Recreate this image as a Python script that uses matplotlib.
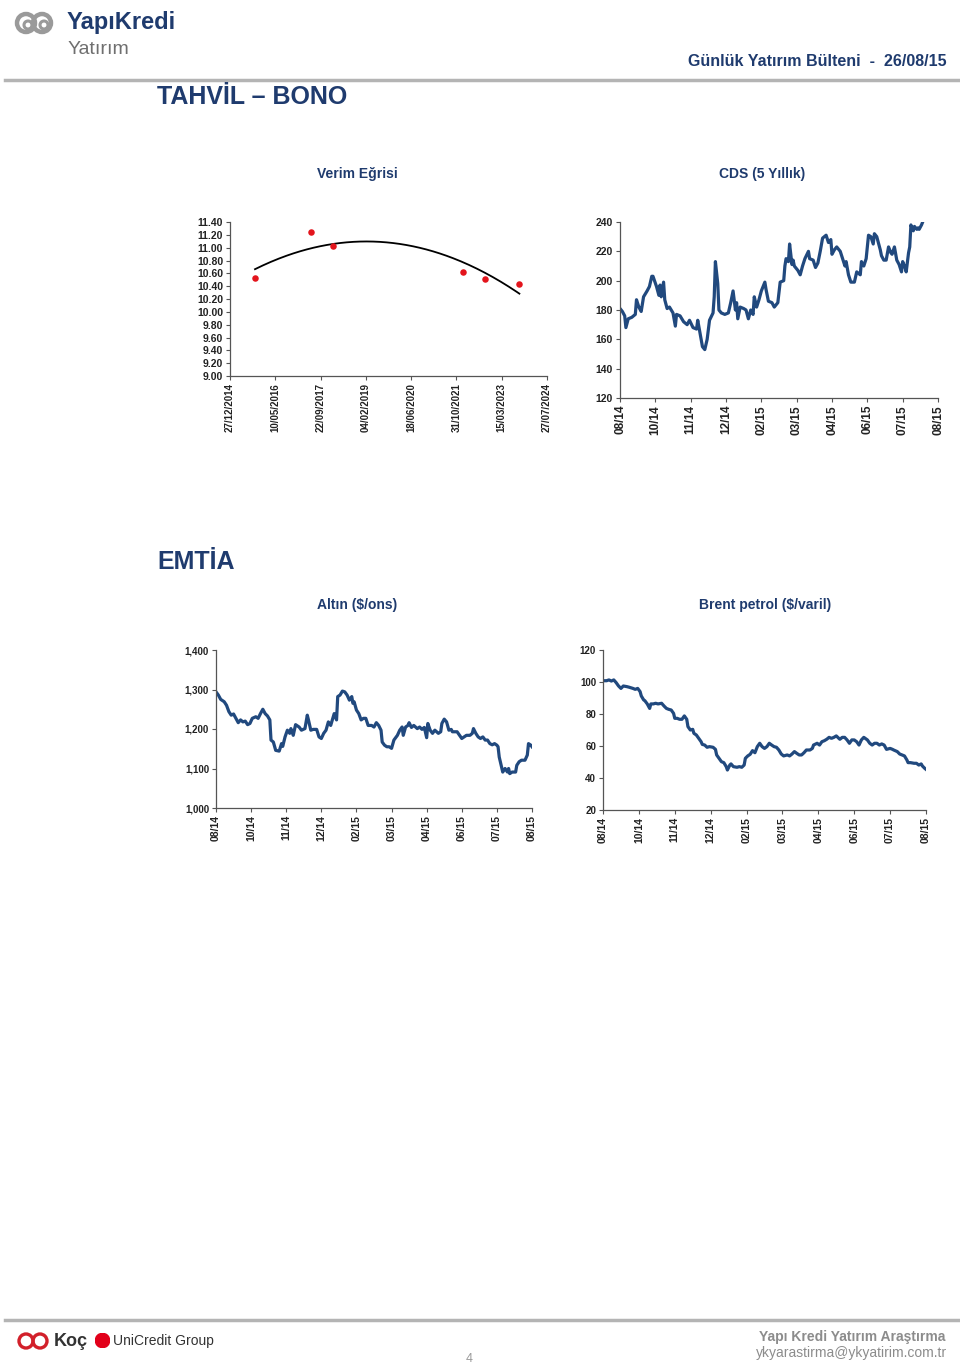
import numpy as np
import pandas as pd
import matplotlib
matplotlib.use("Agg")
import matplotlib.pyplot as plt
import matplotlib.dates as mdates
from matplotlib.patches import Circle

plt.rcParams['font.family'] = ['Liberation Sans', 'DejaVu Sans']

W, H = 960, 1365
NAVY = '#1f3b6e'
LINE = '#21497e'
GREY = '#8a8a8a'

# Verim egrisi (bond maturities vs yield)
yield_dates = ['2015-09-29', '2017-06-09', '2018-02-07', '2022-01-16', '2022-09-16', '2023-09-26']
yield_values = [10.53, 11.25, 11.02, 10.62, 10.51, 10.44]
yield_ticks = ['2014-12-27', '2016-05-10', '2017-09-22', '2019-02-04',
               '2020-06-18', '2021-10-31', '2023-03-15', '2024-07-27']

# CDS (5 yillik), x = trading day index
cds_day = [0, 2, 4, 5, 7, 10, 13, 14, 16, 18, 20, 23, 25, 27, 28, 31, 33, 34, 35, 37, 38, 40, 42, 45,
           47, 48, 51, 54, 57, 59, 62, 65, 66, 68, 70, 72, 74, 76, 79, 80, 81, 83, 84, 86, 89, 92,
           94, 96, 98, 99, 100, 102, 105, 107, 109, 111, 113, 114, 116, 118, 120, 123, 124, 126,
           129, 131, 134, 136, 139, 140, 141, 143, 144, 146, 147, 148, 151, 153, 155, 157, 160,
           161, 164, 166, 168, 170, 172, 175, 177, 179, 180, 182, 184, 187, 189, 191, 192, 194,
           196, 199, 201, 204, 205, 207, 209, 211, 213, 215, 216, 218, 221, 222, 224, 226, 228,
           230, 231, 233, 235, 237, 239, 240, 242, 243, 245, 246, 247, 249, 250, 252, 253, 254,
           256, 257]
cds_values = [181, 179, 176, 168, 174, 175, 177, 187, 182, 179, 189, 193, 196, 203, 203, 196, 190,
              197, 189, 199, 187, 181, 182, 178, 169, 177, 176, 172, 170, 173, 168, 167, 173, 164,
              155, 153, 160, 173, 178, 189, 213, 198, 180, 178, 177, 178, 185, 193, 180, 185, 174,
              182, 181, 180, 174, 180, 177, 189, 182, 187, 193, 199, 194, 186, 185, 182, 185, 199,
              200, 210, 215, 213, 225, 211, 214, 210, 207, 204, 210, 215, 220, 215, 214, 209, 212,
              220, 229, 231, 226, 228, 218, 221, 223, 220, 215, 210, 213, 204, 199, 199, 206, 204,
              213, 210, 215, 231, 230, 225, 232, 230, 221, 217, 214, 214, 223, 219, 218, 223, 214,
              211, 206, 213, 209, 206, 219, 223, 238, 234, 237, 235, 236, 235, 238, 240]

# Altin ($/ons)
gold_day = [0, 2, 4, 7, 9, 11, 13, 15, 17, 19, 21, 23, 25, 27, 29, 31, 34, 36, 38, 40, 42, 44, 46,
            47, 49, 51, 54, 56, 57, 59, 61, 63, 64, 66, 68, 71, 73, 76, 78, 79, 81, 83, 86, 88, 90,
            92, 94, 96, 98, 101, 103, 104, 106, 108, 110, 112, 114, 116, 117, 118, 120, 122, 124,
            126, 128, 130, 133, 135, 137, 139, 141, 142, 144, 146, 148, 150, 152, 155, 157, 159,
            160, 162, 164, 165, 167, 169, 172, 174, 176, 178, 180, 181, 183, 185, 187, 190, 192,
            193, 195, 197, 199, 201, 202, 204, 206, 209, 210, 212, 214, 217, 219, 220, 222, 224,
            226, 228, 230, 232, 234, 236, 238, 240, 241, 242, 244, 245, 247, 249, 250, 251, 253,
            256, 257, 259, 261, 264, 266, 267, 269, 270]
gold_values = [1294, 1286, 1275, 1269, 1260, 1244, 1235, 1238, 1227, 1216, 1223, 1218, 1220, 1211,
               1214, 1227, 1231, 1227, 1239, 1250, 1239, 1233, 1223, 1172, 1167, 1146, 1144, 1163,
               1156, 1180, 1197, 1189, 1201, 1184, 1211, 1205, 1197, 1201, 1235, 1223, 1197, 1199,
               1199, 1180, 1176, 1189, 1197, 1218, 1209, 1239, 1223, 1282, 1286, 1296, 1294, 1286,
               1273, 1282, 1265, 1269, 1248, 1239, 1223, 1227, 1227, 1209, 1209, 1205, 1216, 1209,
               1197, 1167, 1159, 1155, 1155, 1151, 1172, 1184, 1197, 1205, 1184, 1205, 1209, 1216,
               1204, 1209, 1201, 1205, 1199, 1204, 1178, 1214, 1197, 1189, 1197, 1189, 1193, 1214,
               1225, 1218, 1197, 1199, 1193, 1193, 1193, 1180, 1176, 1180, 1184, 1184, 1189, 1201,
               1189, 1180, 1176, 1180, 1172, 1172, 1163, 1160, 1163, 1159, 1155, 1129, 1104, 1091,
               1100, 1091, 1100, 1087, 1091, 1091, 1108, 1117, 1121, 1121, 1134, 1163, 1159, 1155]

# Brent petrol ($/varil)
brent_day = [0, 3, 5, 7, 9, 11, 13, 15, 17, 20, 22, 25, 27, 29, 31, 32, 34, 35, 37, 39, 40, 42, 44,
             46, 49, 51, 53, 55, 57, 59, 60, 62, 64, 66, 68, 70, 71, 73, 75, 76, 78, 80, 82, 83, 85,
             87, 89, 92, 94, 95, 97, 99, 101, 103, 104, 106, 107, 109, 112, 114, 116, 118, 119, 121,
             123, 125, 127, 129, 131, 133, 135, 137, 139, 141, 143, 145, 147, 149, 151, 154, 156,
             158, 160, 162, 164, 166, 168, 170, 173, 175, 176, 179, 181, 183, 185, 187, 189, 191,
             193, 195, 198, 200, 202, 204, 206, 208, 210, 212, 214, 216, 218, 221, 223, 225, 227,
             229, 231, 233, 235, 237, 240, 242, 243, 246, 248, 250, 252, 254, 255, 257, 260, 262,
             264, 266, 267, 269, 270]
brent_values = [100.8, 100.8, 101.3, 100.6, 101.3, 99.6, 97.5, 96.0, 97.5, 97.1, 96.7, 96.0, 95.4,
                96.0, 94.0, 91.3, 88.8, 88.3, 86.3, 83.5, 86.3, 86.3, 86.7, 86.3, 86.7, 85.0, 83.5,
                82.9, 82.5, 80.4, 77.3, 77.3, 76.7, 76.7, 78.8, 76.7, 72.1, 70.0, 70.4, 67.9, 66.9,
                64.8, 62.7, 61.0, 60.6, 59.2, 59.6, 59.2, 57.9, 54.4, 52.3, 50.2, 49.6, 47.1, 45.0,
                48.1, 48.8, 47.1, 46.7, 47.1, 46.7, 48.1, 52.3, 53.8, 54.8, 57.1, 55.8, 59.6, 61.7,
                59.6, 58.5, 59.6, 61.7, 60.6, 59.6, 59.2, 57.5, 55.0, 53.8, 54.4, 53.8, 55.0, 56.5,
                55.4, 54.4, 54.4, 55.8, 57.5, 57.5, 58.5, 60.6, 61.7, 60.6, 62.7, 63.3, 64.2, 65.4,
                64.8, 65.4, 66.3, 64.2, 65.4, 65.4, 63.8, 61.7, 63.8, 63.8, 62.7, 60.6, 63.8, 65.4,
                63.8, 61.7, 60.6, 61.7, 61.7, 60.6, 61.3, 60.6, 57.9, 58.5, 57.9, 57.5, 56.5, 55.0,
                54.4, 53.8, 51.3, 49.6, 49.6, 49.2, 49.2, 48.1, 48.8, 47.5, 46.0, 45.4]

cds_labels = ['08/14', '10/14', '11/14', '12/14', '02/15', '03/15', '04/15', '06/15', '07/15', '08/15']
cmd_labels = ['08/14', '10/14', '11/14', '12/14', '02/15', '03/15', '04/15', '06/15', '07/15', '08/15']


def box(left, top, right, bottom):
    return [left / W, 1 - bottom / H, (right - left) / W, (bottom - top) / H]


def put(x, y, s, **kw):
    fig.text(x / W, 1 - y / H, s, **kw)


def style(ax, ysize=7.5, xsize=7):
    for side in ['top', 'right']:
        ax.spines[side].set_visible(False)
    for side in ['left', 'bottom']:
        ax.spines[side].set_color('#555555')
        ax.spines[side].set_linewidth(0.9)
    ax.tick_params(axis='both', direction='out', length=3, width=0.8, color='#555555')
    ax.tick_params(axis='y', labelsize=ysize, pad=2)
    ax.tick_params(axis='x', labelsize=xsize, labelrotation=90, pad=2)
    for t in ax.get_xticklabels() + ax.get_yticklabels():
        t.set_fontweight('bold')
        t.set_color('#222222')


fig = plt.figure(figsize=(W / 100, H / 100), dpi=100)

# --- page header ---
ring = fig.add_axes(box(12, 8, 68, 40))
ring.set_xlim(0, 56)
ring.set_ylim(0, 32)
ring.set_aspect('equal')
ring.axis('off')
for cx in [14, 30]:
    ring.add_patch(Circle((cx, 17), 9, fill=False, lw=3.2, ec='#9a9a9a'))
    ring.add_patch(Circle((cx + 2, 15), 4, fill=False, lw=2.2, ec='#9a9a9a'))
put(67, 22, 'YapıKredi', fontsize=17, fontweight='bold', color=NAVY, va='center')
put(68, 49, 'Yatırım', fontsize=14, color='#6f6f6f', va='center')
put(947, 62, 'Günlük Yatırım Bülteni  -  26/08/15', fontsize=11.5, fontweight='bold',
    color=NAVY, ha='right', va='center')
fig.add_artist(plt.Line2D([5 / W, 958 / W], [1 - 80 / H] * 2, color='#b4b4b4', lw=2.5))
put(157, 97, 'TAHVİL – BONO', fontsize=18, fontweight='bold', color=NAVY, va='center')
put(157, 562, 'EMTİA', fontsize=18, fontweight='bold', color=NAVY, va='center')

put(357, 174, 'Verim Eğrisi', fontsize=10, fontweight='bold', color=NAVY, ha='center', va='center')
put(762, 174, 'CDS (5 Yıllık)', fontsize=10, fontweight='bold', color=NAVY, ha='center', va='center')
put(357, 605, 'Altın ($/ons)', fontsize=10, fontweight='bold', color=NAVY, ha='center', va='center')
put(765, 605, 'Brent petrol ($/varil)', fontsize=10, fontweight='bold', color=NAVY, ha='center', va='center')

# --- yield curve ---
ax1 = fig.add_axes(box(230, 222, 547, 376))
yx = mdates.date2num(pd.to_datetime(yield_dates))
ax1.scatter(yx, yield_values, s=22, color='#e3141c', zorder=3, linewidths=0)
coef = np.polyfit(yx - yx[0], yield_values, 2)
xs = np.linspace(yx[0], yx[-1], 200)
ax1.plot(xs, np.polyval(coef, xs - yx[0]), color='black', lw=1.3)
tx = mdates.date2num(pd.to_datetime(yield_ticks))
ax1.set_xlim(tx[0], tx[-1])
ax1.set_xticks(tx)
ax1.set_xticklabels(pd.to_datetime(yield_ticks).strftime('%d/%m/%Y'))
ax1.set_ylim(9.0, 11.4)
ax1.set_yticks(np.arange(9.0, 11.41, 0.2))
ax1.set_yticklabels([f'{v:.2f}' for v in np.arange(9.0, 11.41, 0.2)])
style(ax1, ysize=7.5, xsize=7)

# --- CDS ---
ax2 = fig.add_axes(box(620, 222, 938, 398))
ax2.plot(cds_day, cds_values, color=LINE, lw=2.3, solid_joinstyle='round')
ax2.set_xlim(0, 270)
ax2.set_xticks(np.linspace(0, 270, len(cds_labels)))
ax2.set_xticklabels(cds_labels)
ax2.set_ylim(120, 240)
ax2.set_yticks(range(120, 241, 20))
style(ax2, ysize=7.5, xsize=8.5)

# --- gold ---
ax3 = fig.add_axes(box(216, 650, 532, 808))
ax3.plot(gold_day, gold_values, color=LINE, lw=2.3, solid_joinstyle='round')
ax3.set_xlim(0, 270)
ax3.set_xticks(np.linspace(0, 270, len(cmd_labels)))
ax3.set_xticklabels(cmd_labels)
ax3.set_ylim(1000, 1400)
ax3.set_yticks(range(1000, 1401, 100))
ax3.set_yticklabels([f'{v:,}' for v in range(1000, 1401, 100)])
style(ax3, ysize=7, xsize=7.5)

# --- brent ---
ax4 = fig.add_axes(box(603, 650, 926, 810))
ax4.plot(brent_day, brent_values, color=LINE, lw=2.3, solid_joinstyle='round')
ax4.set_xlim(0, 270)
ax4.set_xticks(np.linspace(0, 270, len(cmd_labels)))
ax4.set_xticklabels(cmd_labels)
ax4.set_ylim(20, 120)
ax4.set_yticks(range(20, 121, 20))
style(ax4, ysize=7, xsize=7.5)

# --- footer ---
fig.add_artist(plt.Line2D([5 / W, 958 / W], [1 - 1320 / H] * 2, color='#b4b4b4', lw=2.5))
logo = fig.add_axes(box(16, 1330, 56, 1352))
logo.set_xlim(0, 40)
logo.set_ylim(0, 22)
logo.set_aspect('equal')
logo.axis('off')
for cx in [10, 24]:
    logo.add_patch(Circle((cx, 11), 7, fill=False, lw=2.4, ec='#d2202a'))
put(54, 1341, 'Koç', fontsize=13, fontweight='bold', color='#333333', va='center')
uc = fig.add_axes(box(95, 1333, 110, 1348))
uc.set_xlim(0, 1)
uc.set_ylim(0, 1)
uc.set_aspect('equal')
uc.axis('off')
uc.add_patch(Circle((0.5, 0.5), 0.48, color='#e2001a'))
put(113, 1341, 'UniCredit Group', fontsize=10, color='#333333', va='center')
put(469, 1359, '4', fontsize=9, color='#999999', ha='center', va='center')
put(945, 1337, 'Yapı Kredi Yatırım Araştırma', fontsize=10, fontweight='bold',
    color='#8c8c8c', ha='right', va='center')
put(947, 1353, 'ykyarastirma@ykyatirim.com.tr', fontsize=10, color='#8c8c8c',
    ha='right', va='center')

fig.savefig('out.png', dpi=100)
